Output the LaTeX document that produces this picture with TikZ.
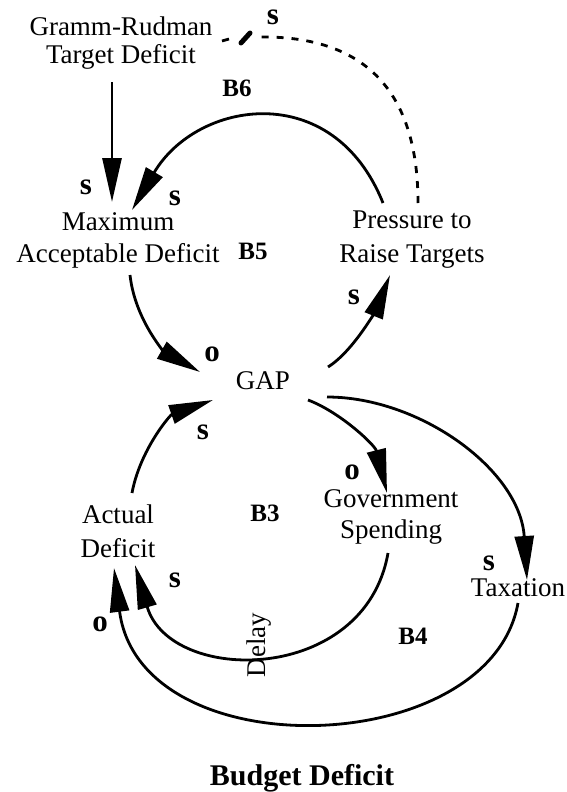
\documentclass[tikz,border=0pt]{standalone}
\usepackage{fontspec}
\setmainfont{Liberation Serif}
\usetikzlibrary{arrows.meta}
\begin{document}
\begin{tikzpicture}[x=1pt,y=-1pt,
  var/.style={align=center,inner sep=0pt,font=\fontsize{27}{32}\selectfont},
  loopname/.style={inner sep=0pt,font=\fontsize{25}{28}\selectfont\bfseries},
  pol/.style={inner sep=0pt,font=\fontsize{31}{32}\selectfont\bfseries},
  link/.style={line width=2.8pt,-{Triangle[length=44pt,width=19pt]}},
  dashlink/.style={line width=2.8pt,dash pattern=on 7pt off 8pt},
]
\useasboundingbox (0,0) rectangle (567,792);

% variables
\node[var,font=\fontsize{27}{28}\selectfont] (gr) at (121,43) {Gramm-Rudman\\Target Deficit};
\node[var] (mad) at (118,240) {Maximum\\Acceptable Deficit};
\node[var,font=\fontsize{27}{34}\selectfont] (prt) at (412,240) {Pressure to\\Raise Targets};
\node[var] (gap) at (263,381) {GAP};
\node[var,font=\fontsize{27}{34}\selectfont] (act) at (118,531) {Actual\\Deficit};
\node[var,font=\fontsize{27}{31}\selectfont] (gs) at (391,517) {Government\\Spending};
\node[var] (tax) at (518,588) {Taxation};

% loop names
\node[loopname] (b6) at (237,88) {B6};
\node[loopname] (b5) at (253,251) {B5};
\node[loopname] (b3) at (265,513) {B3};
\node[loopname] (b4) at (413,636) {B4};

% links
\draw[link] ([shift={(-9,39)}]gr.center) -- ([shift={(-6,-38)}]mad.center);
\draw[link] ([shift={(-29,-37)}]prt.center) .. controls +(-50,-125) and +(65,-110) .. ([shift={(14,-30)}]mad.center);
\draw[link] ([shift={(12,35)}]mad.center) .. controls +(5,45) and +(-35,-20) .. ([shift={(-63,-9)}]gap.center);
\draw[link] ([shift={(65,-14)}]gap.center) .. controls +(27,-17) and +(-12,30) .. ([shift={(-22,35)}]prt.center);
\draw[link] ([shift={(14,-38)}]act.center) .. controls +(8,-43) and +(-43,15) .. ([shift={(-50,19)}]gap.center);
\draw[link] ([shift={(45,19)}]gap.center) .. controls +(32,12) and +(-12,-48) .. ([shift={(-4,-24)}]gs.center);
\draw[link] ([shift={(64,16)}]gap.center) .. controls +(93,0) and +(-7,-110) .. ([shift={(9,-8)}]tax.center);
\draw[link] ([shift={(-3,36)}]gs.center) .. controls +(-23,132) and +(35,120) .. ([shift={(17,34)}]act.center);
\draw[link] ([shift={(0,15)}]tax.center) .. controls +(-28,157) and +(26,202) .. ([shift={(-4,37)}]act.center);

% dashed link back to the target, with its broken head
\draw[dashlink] ([shift={(6,-37)}]prt.center) .. controls +(0,-103) and +(115,-2) .. ([shift={(137,-6)}]gr.center);
\draw[line width=5pt,line cap=round] ([shift={(120,0)}]gr.center) -- ([shift={(129,-10)}]gr.center);
\draw[line width=2.8pt] ([shift={(101,-2)}]gr.center) -- ([shift={(108,-4)}]gr.center);

% delay mark
\node[var,rotate=90] (delay) at (259,645) {Delay};

% polarities
\node[pol] (p1) at (273,17) {s};
\node[pol] (p2) at (86,187) {s};
\node[pol] (p3) at (175,198) {s};
\node[pol] (p4) at (212,354) {o};
\node[pol] (p5) at (354,297) {s};
\node[pol] (p6) at (203,432) {s};
\node[pol] (p7) at (352,472) {o};
\node[pol] (p8) at (489,563) {s};
\node[pol] (p9) at (175,580) {s};
\node[pol] (p10) at (100,624) {o};

% title
\node[inner sep=0pt,font=\fontsize{30}{34}\selectfont\bfseries] (title) at (302,778) {Budget Deficit};
\end{tikzpicture}
\end{document}
